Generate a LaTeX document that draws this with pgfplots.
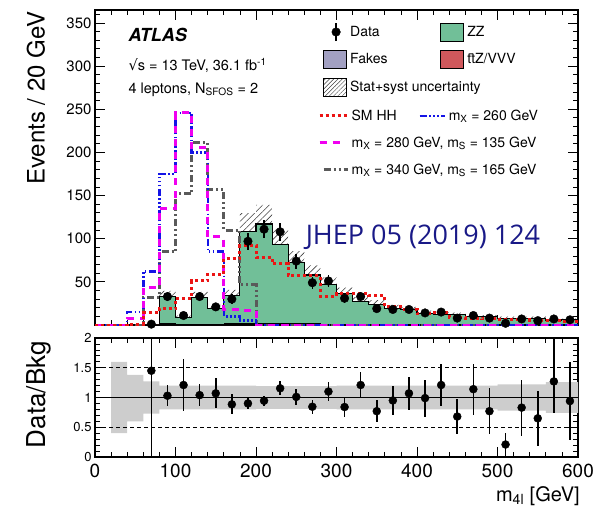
\documentclass[border=0pt]{standalone}
\usepackage{fontspec}
\setmainfont{TeX Gyre Heros}
\newfontfamily\dejavu{DejaVu Sans}
\newfontfamily\opensans{Open Sans}
\usepackage{pgfplots}
\pgfplotsset{compat=1.18}
\usepackage{pgfplotstable}
\usepgfplotslibrary{fillbetween}
\usetikzlibrary{patterns.meta}

\definecolor{zzgreen}{RGB}{113,191,152}
\definecolor{fakes}{RGB}{162,160,194}
\definecolor{ttz}{RGB}{208,88,92}
\definecolor{hhred}{RGB}{235,20,20}
\definecolor{xblue}{RGB}{20,20,230}
\definecolor{xmag}{RGB}{240,0,240}
\definecolor{xgray}{RGB}{90,90,90}
\definecolor{jhep}{RGB}{25,25,135}
\definecolor{bandgray}{RGB}{205,205,205}

\tikzset{
 hhline/.style={hhred, line width=3bp, dash pattern=on 3bp off 3bp},
 xaline/.style={xblue, line width=2.4bp, dash pattern=on 7bp off 2.5bp on 1.5bp off 2.5bp on 1.5bp off 2.5bp on 1.5bp off 2.5bp},
 xbline/.style={xmag, line width=3bp, dash pattern=on 7bp off 6bp},
 xcline/.style={xgray, line width=3bp, dash pattern=on 7bp off 3bp on 2bp off 3bp on 2bp off 3bp},
}

\pgfplotstableread{
lo bkg up dn ff tt hh a b c
0 0 0 0 0 0 0 0 0 0
20 0 0 0 0 0 0 0 0 0
40 0.1 0.14 0.06 0 0 1 15 8 0
60 0.7 0.9 0.5 0.2 0.1 14 62 43 32
80 33 39.6 26.4 1.2 0.3 19 175 135 85
100 9 10.8 7.2 0.8 0.3 31 246 246 152
120 32 38.4 25.6 1.0 0.4 51 200 206 211
140 19.5 23.4 15.6 0.8 0.4 59 85 102 157
160 34 40.8 27.2 1.0 0.5 77 10 18 110
180 108 129.6 86.4 1.2 0.8 92 5 17 47
200 117 139.2 94.8 1.2 1.0 78 0 0 0
220 93 110.7 75.3 1.0 1.0 71 0 0 0
240 72 85.7 58.3 0.8 1.0 57 0 0 0
260 58 69.0 47.0 0.6 0.9 57 0 0 0
280 46.5 55.3 37.7 0.5 0.8 33 0 0 0
300 36 43.2 28.8 0.4 0.8 36 0 0 0
320 27 32.4 21.6 0.3 0.7 36 0 0 0
340 24 28.8 19.2 0.3 0.7 34 0 0 0
360 19.5 23.4 15.6 0.2 0.6 21 0 0 0
380 17.5 21.0 14.0 0.2 0.6 18 0 0 0
400 13.8 16.6 11.0 0.2 0.5 13 0 0 0
420 12.5 15.0 10.0 0.1 0.5 14 0 0 0
440 12 14.4 9.6 0.1 0.4 9 0 0 0
460 9.5 11.4 7.6 0.1 0.4 8 0 0 0
480 9.5 11.4 7.6 0.1 0.4 7 0 0 0
500 8 9.8 6.2 0.1 0.3 6 0 0 0
520 8 9.8 6.2 0.1 0.3 6 0 0 0
540 8 9.8 6.2 0.1 0.3 5 0 0 0
560 5.5 6.9 4.1 0.1 0.3 5 0 0 0
580 6 7.5 4.5 0.1 0.3 4 0 0 0
600 6 7.5 4.5 0.1 0.3 4 0 0 0
}\bins

\pgfplotstableread{
x y e
70 1 1
90 33 5.7
110 11 3.3
130 33 5.7
150 21 4.6
170 30 5.5
190 97 9.8
210 111 10.5
230 108 10.4
250 74 8.6
270 49 7
290 51 7.1
310 31 5.6
330 33 5.7
350 19 4.4
370 18 4.2
390 18 4.2
410 14 3.7
430 15 3.9
450 8 2.8
470 11 3.3
490 8 2.8
510 2 1.4
530 7 2.6
550 5 2.2
570 7 2.6
590 6 2.4
}\data

\pgfplotstableread{
x y ep em
70 1.45 0.55 1.45
90 1.03 0.18 0.18
110 1.21 0.43 0.43
130 1.04 0.19 0.19
150 1.07 0.25 0.25
170 0.885 0.17 0.17
190 0.90 0.09 0.09
210 0.945 0.08 0.08
230 1.155 0.12 0.12
250 1.01 0.13 0.13
270 0.845 0.12 0.12
290 1.10 0.16 0.16
310 0.84 0.17 0.17
330 1.21 0.22 0.22
350 0.77 0.19 0.19
370 0.95 0.24 0.24
390 1.07 0.28 0.28
410 0.99 0.31 0.31
430 1.21 0.36 0.36
450 0.68 0.30 0.30
470 1.14 0.43 0.43
490 0.77 0.39 0.39
510 0.21 0.20 0.21
530 0.83 0.47 0.47
550 0.65 0.46 0.46
570 1.27 0.73 0.53
590 0.94 0.66 0.66
}\ratio

\pgfplotstableread{
lo rup rdn
0 1 1
20 1.60 0.40
40 1.38 0.60
60 1.27 0.73
80 1.20 0.80
100 1.20 0.80
120 1.20 0.80
140 1.20 0.80
160 1.20 0.80
180 1.20 0.80
200 1.19 0.81
220 1.19 0.81
240 1.19 0.81
260 1.19 0.81
280 1.19 0.81
300 1.20 0.80
320 1.20 0.80
340 1.20 0.80
360 1.20 0.80
380 1.20 0.80
400 1.20 0.80
420 1.20 0.80
440 1.20 0.80
460 1.20 0.80
480 1.20 0.80
500 1.22 0.78
520 1.22 0.78
540 1.22 0.78
560 1.26 0.74
580 1.26 0.74
600 1.26 0.74
}\band

\pgfplotsset{
 atlas/.style={
   scale only axis, width=483bp,
   xmin=0, xmax=600,
   axis line style={line width=1.1bp},
   tick style={black, line width=0.8bp},
   major tick length=10bp, minor tick length=5bp,
   tick align=inside, tick pos=both,
   xtick={0,100,...,600}, minor xtick={20,40,...,580},
   clip mode=individual,
   /pgf/number format/assume math mode=true,
 },
 legsty/.style={
   legend columns=2, legend cell align=left,
 },
}

\begin{document}
\begin{tikzpicture}

% ---------------- main panel ----------------
\begin{axis}[atlas, legsty,
  at={(95bp,-10bp)}, anchor=north west, height=315bp,
  ymin=0, ymax=365,
  ytick={50,100,...,350}, minor ytick={10,20,...,360},
  xticklabels={},
  yticklabel style={font=\fontsize{15bp}{15bp}\selectfont},
  ylabel={Events / 20 GeV},
  every axis y label/.style={at={(axis description cs:-0.1222,1.006)}, anchor=east, rotate=90,
     font=\fontsize{24bp}{24bp}\selectfont},
  legend style={at={(0.4617,0.9738)}, anchor=north west, draw=none, fill=none, inner sep=0pt, outer sep=0pt,
     row sep=0pt, column sep=0pt, nodes={inner xsep=2bp, inner ysep=0bp, minimum height=27.5bp},
     font=\fontsize{14bp}{16bp}\selectfont},
]
\addplot[const plot, fill=zzgreen, draw=black, line width=1.1bp, forget plot]
  table[x=lo, y=bkg] {\bins} \closedcycle;
\addplot[const plot, fill=fakes, draw=black, line width=0.5bp, forget plot]
  table[x=lo, y expr=\thisrow{ff}+\thisrow{tt}] {\bins} \closedcycle;
\addplot[const plot, fill=ttz, draw=black, line width=0.5bp, forget plot]
  table[x=lo, y=tt] {\bins} \closedcycle;
\addplot[name path=up, const plot, draw=none, forget plot] table[x=lo, y=up] {\bins};
\addplot[name path=dn, const plot, draw=none, forget plot] table[x=lo, y=dn] {\bins};
\addplot[pattern={Lines[angle=45, distance=4.5bp, line width=0.6bp]}, pattern color=black!75, draw=none, forget plot]
  fill between[of=up and dn];

\addplot[const plot, xcline, forget plot] table[x=lo, y=c] {\bins};
\addplot[const plot, xaline, forget plot] table[x=lo, y=a] {\bins};
\addplot[const plot, xbline, forget plot] table[x=lo, y=b] {\bins};
\addplot[const plot, hhline, forget plot] table[x=lo, y=hh] {\bins};

\addplot[only marks, mark=*, mark size=4.3bp, black, forget plot,
  error bars/.cd, y dir=both, y explicit, error mark=none,
  error bar style={line width=1.6bp}]
  table[x=x, y=y, y error=e] {\data};

\addlegendimage{legend image code/.code={
  \draw[black, line width=1.6bp] (18bp,-9bp)--(18bp,9bp); \fill[black] (18bp,0bp) circle (4.3bp);
  \path[draw=none, fill=none] (30bp,0bp) circle (0.1bp);}}
\addlegendentry{\makebox[83bp][l]{Data}}
\addlegendimage{legend image code/.code={
  \path[draw=none, fill=none] (0bp,0bp) circle (0.1bp);
  \draw[fill=zzgreen, draw=black, line width=1bp] (5bp,-9bp) rectangle (28bp,9bp);
  \path[draw=none, fill=none] (30bp,0bp) circle (0.1bp);}}
\addlegendentry{ZZ}
\addlegendimage{legend image code/.code={
  \path[draw=none, fill=none] (0bp,0bp) circle (0.1bp);
  \draw[fill=fakes, draw=black, line width=1bp] (5bp,-9bp) rectangle (28bp,9bp);
  \path[draw=none, fill=none] (30bp,0bp) circle (0.1bp);}}
\addlegendentry{\makebox[83bp][l]{Fakes}}
\addlegendimage{legend image code/.code={
  \path[draw=none, fill=none] (0bp,0bp) circle (0.1bp);
  \draw[fill=ttz, draw=black, line width=1bp] (5bp,-9bp) rectangle (28bp,9bp);
  \path[draw=none, fill=none] (30bp,0bp) circle (0.1bp);}}
\addlegendentry{t\={t}Z/VVV}
\addlegendimage{legend image code/.code={
  \path[draw=none, fill=none] (0bp,0bp) circle (0.1bp);
  \fill[white] (5bp,-9bp) rectangle (28bp,9bp);
  \fill[pattern={Lines[angle=45, distance=3bp, line width=0.5bp]}, pattern color=black!75] (5bp,-9bp) rectangle (28bp,9bp);
  \draw[black, line width=1bp] (5bp,-9bp) rectangle (28bp,9bp);
  \path[draw=none, fill=none] (30bp,0bp) circle (0.1bp);}}
\addlegendentry{\rlap{Stat+syst uncertainty}}
\addlegendimage{legend image code/.code={}}
\addlegendentry{}

\node[anchor=base west, font=\fontsize{18bp}{18bp}\selectfont] at (rel axis cs:0.0621,0.900) {\textbf{\textit{ATLAS}}};
\node[anchor=base west, font=\fontsize{14.5bp}{16bp}\selectfont] at (rel axis cs:0.0621,0.807) {{\dejavu √}s = 13 TeV, 36.1 fb\textsuperscript{-1}};
\node[anchor=base west, font=\fontsize{14.5bp}{16bp}\selectfont] at (rel axis cs:0.0621,0.7355) {4 leptons, N\textsubscript{SFOS} = 2};
\node[anchor=base, font=\opensans\fontsize{27bp}{27bp}\selectfont, text=jhep] at (rel axis cs:0.679,0.254) {JHEP 05 (2019) 124};
\end{axis}

% ---------------- signal legend ----------------
\begin{axis}[legsty, at={(95bp,-10bp)}, anchor=north west, scale only axis, width=483bp, height=315bp,
  hide axis, xmin=0, xmax=1, ymin=0, ymax=1,
  legend style={at={(0.4617,0.7071)}, anchor=north west, draw=none, fill=none, inner sep=0pt, outer sep=0pt,
     row sep=0pt, column sep=0pt, nodes={inner xsep=2bp, inner ysep=0bp, minimum height=27bp},
     font=\fontsize{14bp}{16bp}\selectfont}]
\addplot[draw=none, forget plot] coordinates {(0.5,0.5)};
\addlegendimage{legend image code/.code={
  \draw[hhline] (0bp,0bp)--(28bp,0bp);
  \path[draw=none, fill=none] (30bp,0bp) circle (0.1bp);}}
\addlegendentry{\makebox[63bp][l]{SM HH}}
\addlegendimage{legend image code/.code={
  \path[draw=none, fill=none] (0bp,0bp) circle (0.1bp);
  \draw[xaline] (3bp,0bp)--(28bp,0bp);
  \path[draw=none, fill=none] (30bp,0bp) circle (0.1bp);}}
\addlegendentry{m\textsubscript{X} = 260 GeV}
\addlegendimage{legend image code/.code={
  \draw[xbline] (0bp,0bp)--(24bp,0bp);
  \path[draw=none, fill=none] (30bp,0bp) circle (0.1bp);}}
\addlegendentry{\rlap{m\textsubscript{X} = 280 GeV, m\textsubscript{S} = 135 GeV}}
\addlegendimage{legend image code/.code={}}
\addlegendentry{}
\addlegendimage{legend image code/.code={
  \path[draw=none, fill=none] (0bp,0bp) circle (0.1bp);
  \draw[xcline] (4bp,0bp)--(28bp,0bp);
  \path[draw=none, fill=none] (30bp,0bp) circle (0.1bp);}}
\addlegendentry{\rlap{m\textsubscript{X} = 340 GeV, m\textsubscript{S} = 165 GeV}}
\addlegendimage{legend image code/.code={}}
\addlegendentry{}
\end{axis}

% ---------------- ratio panel ----------------
\begin{axis}[atlas,
  at={(95bp,-338bp)}, anchor=north west, height=119bp,
  ymin=0, ymax=2,
  ytick={0,0.5,1,1.5,2}, minor ytick={0.1,0.2,...,1.9},
  xticklabel style={font=\fontsize{19bp}{19bp}\selectfont, yshift=-4bp},
  yticklabel style={font=\fontsize{13bp}{13bp}\selectfont},
  ylabel={Data/Bkg},
  every axis y label/.style={at={(axis description cs:-0.117,1)}, anchor=east, rotate=90,
     font=\fontsize{26bp}{26bp}\selectfont},
  xlabel={m\textsubscript{4l} [GeV]},
  every axis x label/.style={at={(axis description cs:1.004,0)}, anchor=north east, yshift=-29bp,
     inner sep=0pt, font=\fontsize{20bp}{20bp}\selectfont},
]
\addplot[name path=rup, const plot, draw=none, forget plot] table[x=lo, y=rup] {\band};
\addplot[name path=rdn, const plot, draw=none, forget plot] table[x=lo, y=rdn] {\band};
\addplot[fill=bandgray, draw=none, forget plot] fill between[of=rup and rdn];
\addplot[black, line width=0.8bp, forget plot] coordinates {(0,1) (600,1)};
\addplot[black, line width=0.7bp, dash pattern=on 4bp off 3bp, forget plot] coordinates {(0,0.5) (600,0.5)};
\addplot[black, line width=0.7bp, dash pattern=on 4bp off 3bp, forget plot] coordinates {(0,1.5) (600,1.5)};
\addplot[only marks, mark=*, mark size=4bp, black, forget plot,
  error bars/.cd, y dir=both, y explicit, error mark=none,
  error bar style={line width=1.6bp}]
  table[x=x, y=y, y error plus=ep, y error minus=em] {\ratio};
\end{axis}

\pgfresetboundingbox
\path[use as bounding box] (0,0) rectangle (602bp,-506bp);
\end{tikzpicture}
\end{document}
